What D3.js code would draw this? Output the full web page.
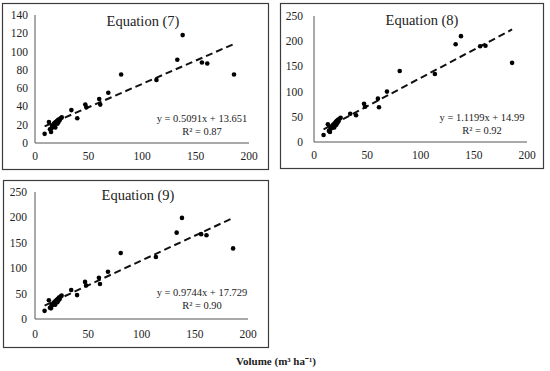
<!DOCTYPE html>
<html>
<head>
<meta charset="utf-8">
<script src="https://cdn.jsdelivr.net/npm/d3@7"></script>
<style>
  body { margin: 0; background: #fff; }
  svg { display: block; }
  text { font-family: "Liberation Serif", "Times New Roman", serif; fill: #222; }
</style>
</head>
<body>
<svg id="chart" width="550" height="371"></svg>
<script>
// observed volume (m3 ha-1) shared by the three panels
var volume = [9, 13, 14, 15, 15.5, 16, 17, 17.5, 18, 18.5, 19, 19.5, 20, 20.5, 21, 21.5, 22, 22.5, 23, 24, 25,
              34, 39.5, 47, 48, 60, 61, 68.5, 80.5, 113.5, 133, 138, 156, 161, 186];
// estimated volume by each equation
var eq7 = [10, 23, 15, 12, 16, 19, 18, 21, 20, 22, 17, 23, 22, 24, 21, 25, 23, 26, 25, 27, 28,
           36, 27, 42, 39, 48, 42, 55, 75, 69, 91, 118, 88, 87, 75];
var eq8 = [14, 35, 22, 20, 27, 30, 28, 33, 31, 35, 29, 37, 36, 40, 34, 42, 38, 44, 41, 46, 48,
           56, 53, 76, 70, 86, 69, 100, 141, 135, 194, 210, 190, 191, 157];
var eq9 = [16, 37, 22, 21, 26, 29, 28, 32, 30, 34, 28, 36, 35, 38, 33, 40, 37, 42, 39, 44, 46,
           57, 47, 73, 66, 81, 69, 93, 130, 122, 170, 199, 167, 165, 139];

var titles = ["Equation (7)", "Equation (8)", "Equation (9)"];
var slopes = [0.5091, 1.1199, 0.9744];
var intercepts = [13.651, 14.99, 17.729];
var fitLabels = ["y = 0.5091x + 13.651", "y = 1.1199x + 14.99", "y = 0.9744x + 17.729"];
var r2Labels = ["R\u00b2 = 0.87", "R\u00b2 = 0.92", "R\u00b2 = 0.90"];
var xTicks = [0, 50, 100, 150, 200];
var yTicks7 = [0, 20, 40, 60, 80, 100, 120, 140];
var yTicks89 = [0, 50, 100, 150, 200, 250];

var series = [eq7, eq8, eq9];
var yMax = [140, 250, 250];
var yTickSets = [yTicks7, yTicks89, yTicks89];

// panel geometry: outer box, plot area, text anchors
var panels = [
  {box: [2, 3, 268, 169], x: [35, 249], y: [143, 15], title: [143, 26], fit: [202, 122], yLab: 28, xLab: 160},
  {box: [280, 3, 543, 168], x: [314, 527], y: [142, 16], title: [422, 25], fit: [482, 121], yLab: 303, xLab: 159},
  {box: [3, 180, 268, 347], x: [35, 248], y: [319, 192], title: [138, 200], fit: [202, 296], yLab: 27, xLab: 338}
];

var svg = d3.select("#chart");

panels.forEach(function(p, k) {
  var g = svg.append("g");
  var x = d3.scaleLinear().domain([0, 200]).range(p.x);
  var y = d3.scaleLinear().domain([0, yMax[k]]).range(p.y);

  g.append("rect")
    .attr("x", p.box[0] + 0.5).attr("y", p.box[1] + 0.5)
    .attr("width", p.box[2] - p.box[0]).attr("height", p.box[3] - p.box[1])
    .attr("fill", "none").attr("stroke", "#3c3c3c").attr("stroke-width", 1.2);

  // axis lines
  g.append("line")
    .attr("x1", x(0)).attr("x2", x(0)).attr("y1", y(yMax[k])).attr("y2", y(0))
    .attr("stroke", "#555").attr("stroke-width", 1);
  g.append("line")
    .attr("x1", x(0)).attr("x2", x(200)).attr("y1", y(0)).attr("y2", y(0))
    .attr("stroke", "#555").attr("stroke-width", 1);

  g.selectAll(".ylab").data(yTickSets[k]).enter().append("text")
    .attr("x", p.yLab).attr("y", function(d) { return y(d) + 4; })
    .attr("text-anchor", "end").attr("font-size", "11.5px")
    .text(function(d) { return d; });

  g.selectAll(".xlab").data(xTicks).enter().append("text")
    .attr("x", function(d) { return x(d); }).attr("y", p.xLab)
    .attr("text-anchor", "middle").attr("font-size", "11.5px")
    .text(function(d) { return d; });

  // trend line over data range
  var ext = d3.extent(volume);
  g.append("line")
    .attr("x1", x(ext[0])).attr("y1", y(slopes[k] * ext[0] + intercepts[k]))
    .attr("x2", x(ext[1])).attr("y2", y(slopes[k] * ext[1] + intercepts[k]))
    .attr("stroke", "#111").attr("stroke-width", 2)
    .attr("stroke-dasharray", "7,4");

  g.selectAll("circle").data(volume).enter().append("circle")
    .attr("cx", function(d) { return x(d); })
    .attr("cy", function(d, i) { return y(series[k][i]); })
    .attr("r", 2.3).attr("fill", "#000");

  g.append("text")
    .attr("x", p.title[0]).attr("y", p.title[1])
    .attr("text-anchor", "middle").attr("font-size", "14.5px")
    .text(titles[k]);

  g.append("text")
    .attr("x", p.fit[0]).attr("y", p.fit[1])
    .attr("text-anchor", "middle").attr("font-size", "10.5px")
    .text(fitLabels[k]);
  g.append("text")
    .attr("x", p.fit[0]).attr("y", p.fit[1] + 12.5)
    .attr("text-anchor", "middle").attr("font-size", "10.5px")
    .text(r2Labels[k]);
});

svg.append("text")
  .attr("x", 276).attr("y", 365)
  .attr("text-anchor", "middle").attr("font-size", "11px").attr("font-weight", "bold")
  .text("Volume (m\u00b3 ha\u207b\u00b9)");
</script>
</body>
</html>
